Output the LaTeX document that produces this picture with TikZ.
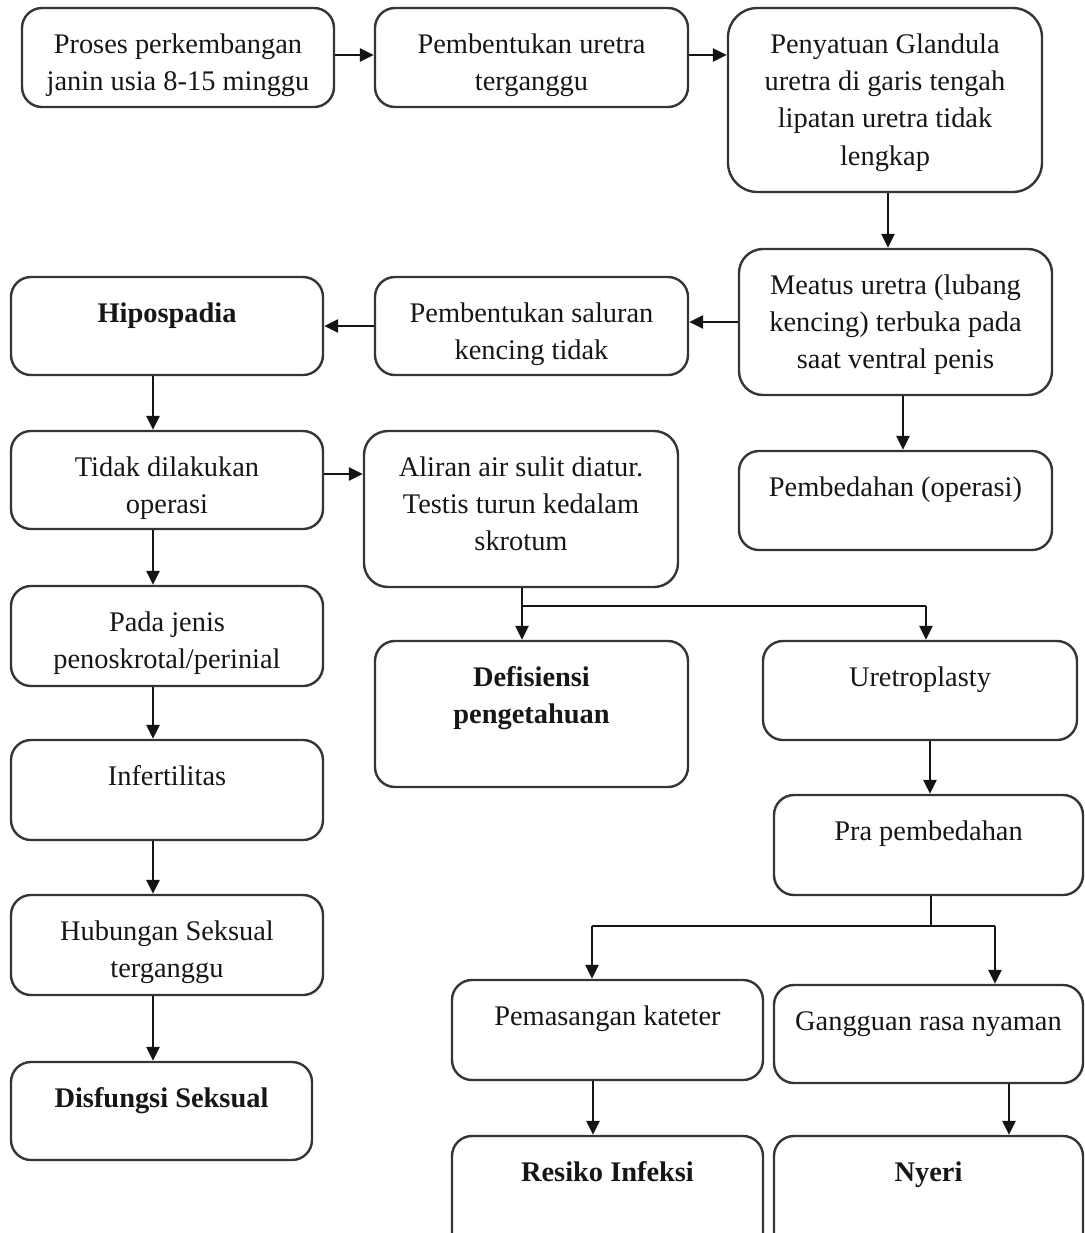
\documentclass[tikz,border=0pt]{standalone}
\usepackage{fontspec}
\setmainfont{Liberation Serif}
\usetikzlibrary{arrows.meta,calc}
\definecolor{boxc}{HTML}{353535}
\definecolor{txtc}{HTML}{161616}
\newcommand\mkbox[6][15pt]{%
  \pgfmathsetmacro\bw{(#5-#3)*0.75}%
  \pgfmathsetmacro\bh{(#6-#4)*0.75}%
  \node[box, rounded corners=#1, minimum width=\bw pt, minimum height=\bh pt] (#2) at ({(#3+#5)/2},{(#4+#6)/2}) {};}
\newcommand\mktxt[3][txt]{\node[#1] (#2t) at ([yshift=-18.5pt]#2.north) {\rule{0pt}{16pt}#3};}
\begin{document}
\begin{tikzpicture}[x=0.75pt,y=-0.75pt,
  box/.style={draw=boxc, line width=1.8pt, inner sep=0pt},
  txt/.style={anchor=north, inner sep=0pt, align=center, text=txtc, font=\fontsize{21.3}{28}\selectfont},
  txtb/.style={txt, font=\fontsize{21.3}{28}\selectfont\bfseries},
  arr/.style={draw=black!92, line width=1.4pt, -{Triangle[length=10.5pt,width=10pt]}},
  ln/.style={draw=black!92, line width=1.4pt}]
\useasboundingbox (0,0) rectangle (1085,1233);
\clip (0,0) rectangle (1085,1233);
% boxes
\mkbox{b1}{22}{8}{334}{107}
\mkbox{b2}{375}{8}{688}{107}
\mkbox[22pt]{b3}{728}{8}{1042}{192}
\mkbox[18pt]{b4}{739}{249}{1052}{395}
\mkbox{b5}{375}{277}{688}{375}
\mkbox{b6}{11}{277}{323}{375}
\mkbox{b7}{739}{451}{1052}{550}
\mkbox{b8}{11}{431}{323}{529}
\mkbox[18pt]{b9}{364}{431}{678}{587}
\mkbox{b10}{11}{586}{323}{686}
\mkbox{b11}{11}{740}{323}{840}
\mkbox{b12}{11}{895}{323}{995}
\mkbox{b13}{11}{1062}{312}{1160}
\mkbox{b14}{375}{641}{688}{787}
\mkbox{b15}{763}{641}{1077}{740}
\mkbox{b16}{774}{795}{1083}{895}
\mkbox{b17}{452}{980}{763}{1080}
\mkbox{b18}{774}{985}{1083}{1083}
\mkbox{b19}{452}{1136}{763}{1260}
\mkbox{b20}{774}{1136}{1083}{1260}
% texts
\mktxt{b1}{Proses perkembangan\\janin usia 8-15 minggu}
\mktxt{b2}{Pembentukan uretra\\terganggu}
\mktxt{b3}{Penyatuan Glandula\\uretra di garis tengah\\lipatan uretra tidak\\lengkap}
\mktxt{b4}{Meatus uretra (lubang\\kencing) terbuka pada\\saat ventral penis}
\mktxt{b5}{Pembentukan saluran\\kencing tidak}
\mktxt[txtb]{b6}{Hipospadia}
\mktxt{b7}{Pembedahan (operasi)}
\mktxt{b8}{Tidak dilakukan\\operasi}
\mktxt{b9}{Aliran air sulit diatur.\\Testis turun kedalam\\skrotum}
\mktxt{b10}{Pada jenis\\penoskrotal/perinial}
\mktxt{b11}{Infertilitas}
\mktxt{b12}{Hubungan Seksual\\terganggu}
\mktxt[txtb]{b13}{Disfungsi Seksual}
\mktxt[txtb]{b14}{Defisiensi\\pengetahuan}
\mktxt{b15}{Uretroplasty}
\mktxt{b16}{Pra pembedahan}
\mktxt{b17}{Pemasangan kateter}
\mktxt{b18}{Gangguan rasa nyaman}
\mktxt[txtb]{b19}{Resiko Infeksi}
\mktxt[txtb]{b20}{Nyeri}
% helper coordinates
\coordinate (lc) at (153,0);
\coordinate (r1) at (0,55);
\coordinate (r8) at (0,474);
\coordinate (c3) at (888,0);
\coordinate (c4) at (903,0);
\coordinate (s1) at (522,606);
\coordinate (s2) at (926,606);
\coordinate (c15) at (930,0);
\coordinate (s5) at (931,926);
\coordinate (s3) at (592,926);
\coordinate (s4) at (995,926);
\coordinate (c17) at (593,0);
\coordinate (c18) at (1009,0);
% connectors
\draw[arr] (b1.east |- r1) -- (b2.west |- r1);
\draw[arr] (b2.east |- r1) -- (b3.west |- r1);
\draw[arr] (b3.south -| c3) -- (b4.north -| c3);
\draw[arr] (b4.west) -- (b4.west -| b5.east);
\draw[arr] (b5.west) -- (b5.west -| b6.east);
\draw[arr] (b4.south -| c4) -- (b7.north -| c4);
\draw[arr] (b6.south -| lc) -- (b8.north -| lc);
\draw[arr] (b8.east |- r8) -- (b9.west |- r8);
\draw[arr] (b8.south -| lc) -- (b10.north -| lc);
\draw[arr] (b10.south -| lc) -- (b11.north -| lc);
\draw[arr] (b11.south -| lc) -- (b12.north -| lc);
\draw[arr] (b12.south -| lc) -- (b13.north -| lc);
\draw[ln] (b9.south -| s1) -- (s1) -- (s2);
\draw[arr] (s1) -- (b14.north -| s1);
\draw[arr] (s2) -- (b15.north -| s2);
\draw[arr] (b15.south -| c15) -- (b16.north -| c15);
\draw[ln] (b16.south -| s5) -- (s5);
\draw[ln] (s3) -- (s4);
\draw[arr] (s3) -- (b17.north -| s3);
\draw[arr] (s4) -- (b18.north -| s4);
\draw[arr] (b17.south -| c17) -- (b19.north -| c17);
\draw[arr] (b18.south -| c18) -- (b20.north -| c18);
\end{tikzpicture}
\end{document}
